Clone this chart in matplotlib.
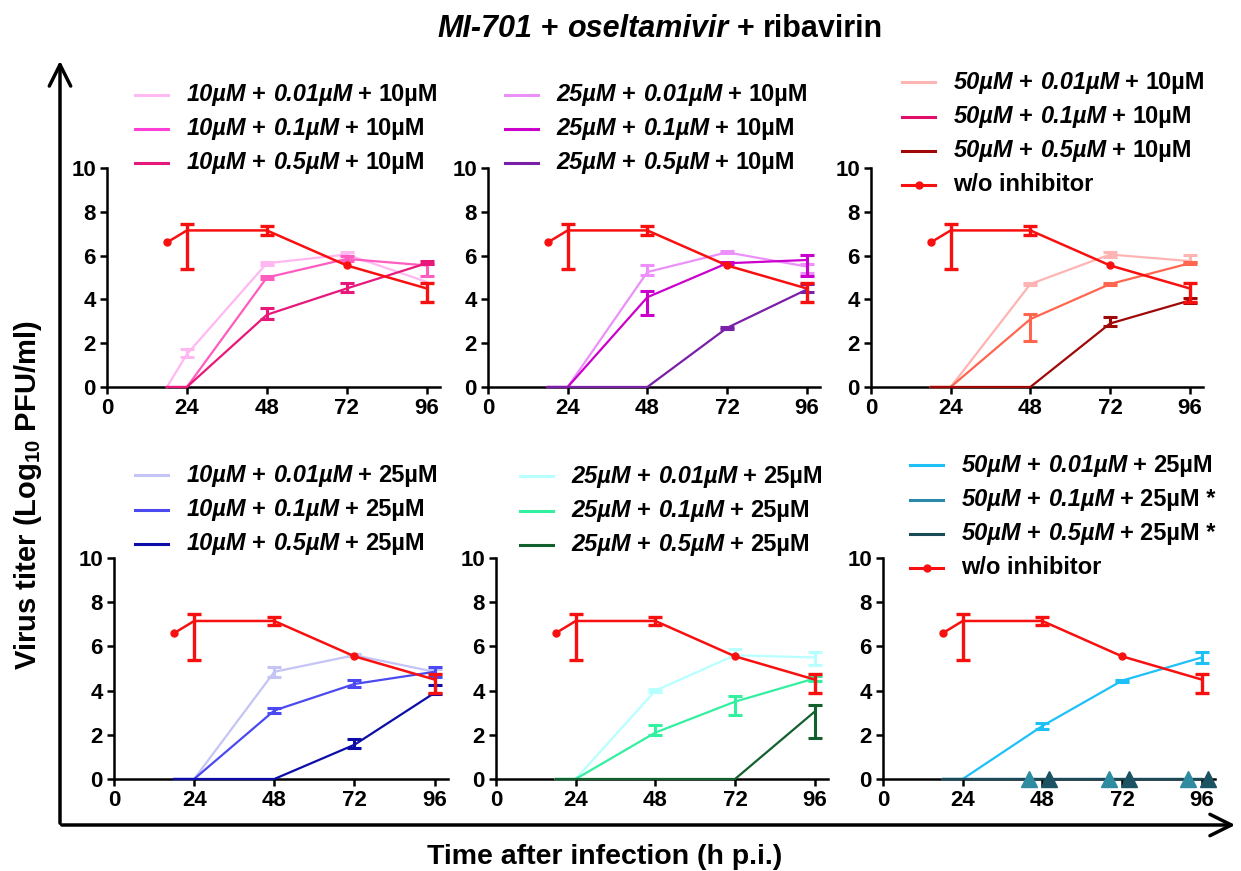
import numpy as np
import matplotlib.pyplot as plt
from matplotlib.lines import Line2D
from matplotlib.patches import FancyArrowPatch
from matplotlib.offsetbox import TextArea, HPacker, VPacker, AnchoredOffsetbox, DrawingArea

plt.rcParams['font.family'] = 'Liberation Sans'
plt.rcParams['mathtext.fontset'] = 'custom'
plt.rcParams['mathtext.rm'] = 'Liberation Sans:bold'
plt.rcParams['mathtext.bf'] = 'Liberation Sans:bold'
plt.rcParams['mathtext.it'] = 'Liberation Sans:italic:bold'

######################################## dados ########################################

time = [18, 24, 48, 72, 96]
ticks_x = [0, 24, 48, 72, 96]

# controle sem inibidor (igual em todos os paineis)
red_y = [6.6, 7.15, 7.15, 5.55, 4.5]
red_lo = [0, 1.75, 0.2, 0, 0.6]
red_hi = [0, 0.3, 0.2, 0, 0.25]

# rotulos: (MI-701, oseltamivir, ribavirina)
mi701 = ['10µM', '25µM', '50µM', '10µM', '25µM', '50µM']
ribav = ['10µM', '10µM', '10µM', '25µM', '25µM', '25µM']
oselt = ['0.01µM', '0.1µM', '0.5µM']
star = [['', '', ''], ['', '', ''], ['', '', ''],
        ['', '', ''], ['', '', ''], ['', ' *', ' *']]

# media por painel / serie
y_vals = [
    [[0, 1.5, 5.65, 6.05, 4.8], [0, 0, 5.0, 5.85, 5.55], [0, 0, 3.3, 4.5, 5.65]],
    [[0, 0, 5.25, 6.15, 5.5], [0, 0, 4.1, 5.65, 5.8], [0, 0, 0, 2.7, 4.45]],
    [[0, 0, 4.7, 6.05, 5.75], [0, 0, 3.1, 4.7, 5.65], [0, 0, 0, 2.9, 3.95]],
    [[0, 0, 4.85, 5.6, 4.85], [0, 0, 3.1, 4.3, 4.85], [0, 0, 0, 1.55, 3.9]],
    [[0, 0, 4.0, 5.6, 5.5], [0, 0, 2.1, 3.5, 4.55], [0, 0, 0, 0, 3.05]],
    [[0, 0, 2.4, 4.45, 5.5], [0, 0, 0, 0, 0], [0, 0, 0, 0, 0]],
]
err_lo = [
    [[0, .15, .1, .05, 0], [0, 0, .05, .1, .5], [0, 0, .2, .15, .05]],
    [[0, 0, .12, .05, .3], [0, 0, .8, .05, .75], [0, 0, 0, .05, .1]],
    [[0, 0, .05, .1, .05], [0, 0, 1.0, .05, .05], [0, 0, 0, .1, .1]],
    [[0, 0, .25, .05, .1], [0, 0, .1, .15, .25], [0, 0, 0, .15, .05]],
    [[0, 0, .05, .1, .35], [0, 0, .1, .6, .1], [0, 0, 0, 0, 1.2]],
    [[0, 0, .12, .05, .25], [0, 0, 0, 0, 0], [0, 0, 0, 0, 0]],
]
err_hi = [
    [[0, .25, .05, .1, 0], [0, 0, .05, .15, .05], [0, 0, .3, .25, .1]],
    [[0, 0, .3, .05, .1], [0, 0, .3, .05, .25], [0, 0, 0, .05, .25]],
    [[0, 0, .05, .1, .3], [0, 0, .25, .05, .05], [0, 0, 0, .3, .1]],
    [[0, 0, .2, .05, .15], [0, 0, .1, .2, .2], [0, 0, 0, .25, .35]],
    [[0, 0, .05, .3, .25], [0, 0, .35, .25, .1], [0, 0, 0, 0, .3]],
    [[0, 0, .12, .05, .25], [0, 0, 0, 0, 0], [0, 0, 0, 0, 0]],
]

# series abaixo do limite de deteccao (triangulos no painel 6)
tri_time = [48, 72, 96]

######################################## estilo ########################################

cores = [
    ['#FFB8F2', '#FF5CC0', '#E8187A'],
    ['#EC90FA', '#CC00CC', '#7A1FA8'],
    ['#FFB4B4', '#FF6650', '#A00808'],
    ['#C4C4F6', '#4A4AF0', '#0C0CA8'],
    ['#B8FFFF', '#33F0A0', '#12602E'],
    ['#1EC0F8', '#2A88A8', '#1A4A58'],
]
cores_leg = [c[:] for c in cores]
cores_leg[0][1] = '#FF40D8'
cores_leg[2][1] = '#E0106A'
vermelho = '#F81010'

W, H = 1241, 871
pos = [
    (107, 440, 168, 387), (488, 820, 168, 387), (871, 1203, 168, 387),
    (114, 448, 558, 779), (496, 828, 558, 779), (883, 1215, 558, 779),
]
leg_pos = [(135, 83), (505, 83), (902, 71), (135, 464), (520, 465), (910, 454)]

FS_LEG = 17
it_props = dict(fontsize=FS_LEG, fontweight='bold', fontstyle='italic')
rg_props = dict(fontsize=FS_LEG, fontweight='bold')


def linha_legenda(color, partes, marker=False):
    da = DrawingArea(24, 12)
    da.add_artist(Line2D([0, 24], [6, 6], color=color, lw=2.2))
    if marker:
        da.add_artist(Line2D([12], [6], color=color, marker='o', ms=5))
    textos = [TextArea(t, textprops=p) for t, p in partes]
    return HPacker(children=[da, HPacker(children=textos, sep=4.6, pad=0, align='center')],
                   sep=13, pad=0, align='center')


fig = plt.figure(figsize=(W / 100, H / 100), dpi=100)

for k in range(6):
    x0, x1, yt, yb = pos[k]
    ax = fig.add_axes([x0 / W, 1 - yb / H, (x1 - x0) / W, (yb - yt) / H])

    for s in range(3):
        ax.plot(time, y_vals[k][s], color=cores[k][s], lw=1.6, clip_on=False, zorder=3)
        idx = [i for i in range(len(time)) if err_lo[k][s][i] + err_hi[k][s][i] > 0]
        if idx:
            ax.errorbar([time[i] for i in idx], [y_vals[k][s][i] for i in idx],
                        yerr=[[err_lo[k][s][i] for i in idx], [err_hi[k][s][i] for i in idx]],
                        fmt='none', ecolor=cores[k][s], elinewidth=2.2, capsize=5,
                        capthick=2.2, clip_on=False, zorder=3)

    if k == 5:
        ax.plot(np.array(tri_time) - 4, [0, 0, 0], '^', color='#2E8BA0', ms=11,
                clip_on=False, zorder=5)
        ax.plot(np.array(tri_time) + 2, [0, 0, 0], '^', color='#1C5363', ms=11,
                clip_on=False, zorder=5)

    ax.plot(time, red_y, color=vermelho, lw=1.8, zorder=4, clip_on=False)
    ax.plot([time[0], time[3]], [red_y[0], red_y[3]], 'o', color=vermelho, ms=5, zorder=4)
    ridx = [i for i in range(len(time)) if red_lo[i] + red_hi[i] > 0]
    ax.errorbar([time[i] for i in ridx], [red_y[i] for i in ridx],
                yerr=[[red_lo[i] for i in ridx], [red_hi[i] for i in ridx]],
                fmt='none', ecolor=vermelho, elinewidth=2.4, capsize=5, capthick=2.4, zorder=4)

    ax.set_xlim(0, 100)
    ax.set_ylim(0, 10)
    ax.set_xticks(ticks_x)
    ax.set_yticks(range(0, 11, 2))
    for lado in ['top', 'right']:
        ax.spines[lado].set_visible(False)
    for lado in ['left', 'bottom']:
        ax.spines[lado].set_linewidth(1.8)
    ax.tick_params(direction='out', length=5, width=1.8, labelsize=16, pad=3)
    for lab in ax.get_xticklabels() + ax.get_yticklabels():
        lab.set_fontweight('bold')
    ax.patch.set_visible(False)

    # legenda montada a mao (partes em italico)
    linhas = []
    for s in range(3):
        partes = [(mi701[k], it_props), ('+', rg_props), (oselt[s], it_props),
                  ('+', rg_props), (ribav[k] + star[k][s], rg_props)]
        linhas.append(linha_legenda(cores_leg[k][s], partes))
    if k in (2, 5):
        linhas.append(linha_legenda(vermelho, [('w/o inhibitor', rg_props)], marker=True))
    vp = VPacker(children=linhas, sep=8, pad=0, align='left')
    lx, ly = leg_pos[k]
    box = AnchoredOffsetbox(loc='upper left', child=vp, pad=0, borderpad=0, frameon=False,
                            bbox_to_anchor=(lx / W, 1 - ly / H), bbox_transform=fig.transFigure)
    box.set_clip_on(False)
    ax.add_artist(box)

# titulo
tit_it = dict(fontsize=22, fontweight='bold', fontstyle='italic')
tit_rg = dict(fontsize=22, fontweight='bold')
titulo = HPacker(children=[TextArea('MI-701', textprops=tit_it), TextArea('+', textprops=tit_rg),
                           TextArea('oseltamivir', textprops=tit_it), TextArea('+', textprops=tit_rg),
                           TextArea('ribavirin', textprops=tit_rg)], sep=6, pad=0, align='center')
fig.add_artist(AnchoredOffsetbox(loc='center', child=titulo, pad=0, borderpad=0, frameon=False,
                                 bbox_to_anchor=(660 / W, 1 - 29 / H), bbox_transform=fig.transFigure))

# eixos grandes com setas
seta = dict(transform=fig.transFigure, arrowstyle='->,head_length=0.7,head_width=0.35',
            mutation_scale=22, lw=2.5, color='k')
fig.add_artist(FancyArrowPatch((60 / W, 1 - 826 / H), (60 / W, 1 - 58 / H), **seta))
fig.add_artist(FancyArrowPatch((59 / W, 1 - 825 / H), (1238 / W, 1 - 825 / H), **seta))

fig.text(28 / W, 1 - 495 / H, 'Virus titer (Log$_{10}$ PFU/ml)', rotation=90,
         ha='center', va='center', fontsize=21, fontweight='bold')
fig.text(605 / W, 1 - 857 / H, 'Time after infection (h p.i.)',
         ha='center', va='center', fontsize=20.5, fontweight='bold')

fig.savefig('out.png', dpi=100)
